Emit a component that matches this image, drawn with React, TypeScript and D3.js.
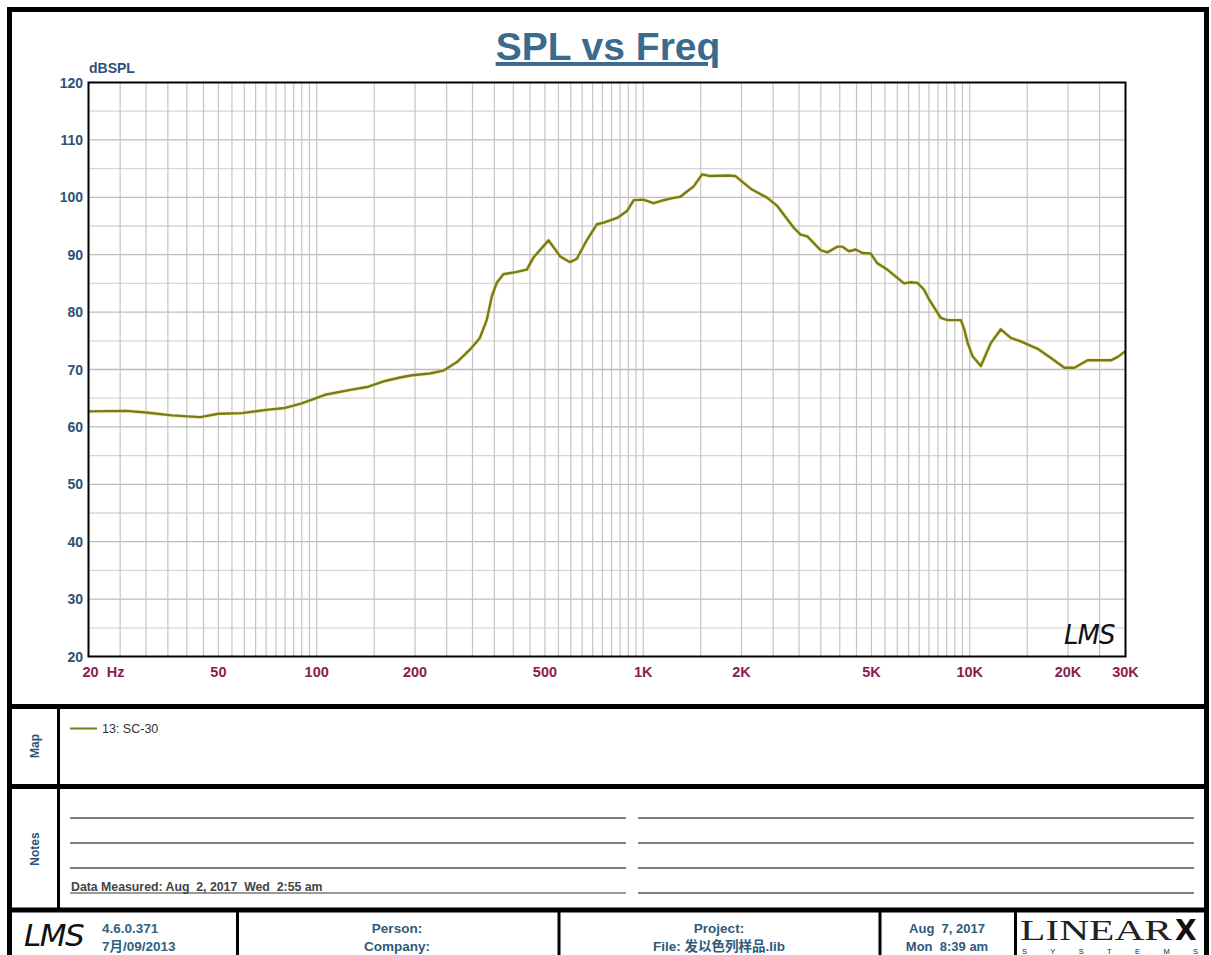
import * as d3 from 'd3';
import React from 'react';

// SPL curve
const freqHz = [
  20, 26, 30, 36, 44, 50, 59, 71, 80, 90,
  106, 128, 144, 162, 180, 196, 222, 244, 269, 295,
  316, 332, 344, 356, 373, 410, 440, 461, 513, 557,
  597, 626, 673, 721, 757, 832, 892, 935, 1000, 1076,
  1156, 1240, 1300, 1346, 1428, 1514, 1607, 1808, 1916, 2134,
  2400, 2573, 2891, 3033, 3180, 3494, 3665, 3930, 4073, 4270,
  4477, 4690, 4973, 5214, 5594, 6292, 6597, 6916, 7250, 7508,
  8150, 8550, 9397, 9622, 9860, 10205, 10816, 11605, 12450, 13360,
  14340, 16150, 17740, 19500, 20910, 22970, 27100, 28400, 30000,
];
const splDb = [
  62.7, 62.8, 62.5, 62.0, 61.7, 62.3, 62.4, 63.0, 63.3, 64.1,
  65.6, 66.5, 67.0, 68.0, 68.6, 69.0, 69.3, 69.8, 71.3, 73.5,
  75.5, 78.7, 82.8, 85.1, 86.6, 87.0, 87.4, 89.5, 92.5, 89.7,
  88.7, 89.3, 92.6, 95.3, 95.6, 96.4, 97.6, 99.5, 99.6, 99.0,
  99.5, 99.9, 100.1, 100.8, 101.9, 104.0, 103.7, 103.8, 103.7, 101.5,
  99.9, 98.5, 94.7, 93.5, 93.2, 90.8, 90.4, 91.4, 91.4, 90.6,
  90.9, 90.3, 90.2, 88.5, 87.4, 85.0, 85.2, 85.1, 83.9, 82.2,
  79.0, 78.6, 78.6, 77.0, 74.6, 72.3, 70.6, 74.6, 77.0, 75.5,
  74.9, 73.6, 72.0, 70.3, 70.3, 71.6, 71.6, 72.2, 73.2,
];

const yTicks = [20, 30, 40, 50, 60, 70, 80, 90, 100, 110, 120];
const xTickFreqs = [20, 50, 100, 200, 500, 1000, 2000, 5000, 10000, 20000, 30000];
const xTickLabels = ['20  Hz', '50', '100', '200', '500', '1K', '2K', '5K', '10K', '20K', '30K'];
// grid spacing per decade: [from, to, step]
const gridSteps = [[20, 100, 5], [100, 1000, 50], [1000, 10000, 500], [10000, 30000, 5000]];

const legendLabel = '13: SC-30';
const noteText = 'Data Measured: Aug  2, 2017  Wed  2:55 am';

const W = 1211;
const H = 955;
const plot = { left: 88.5, right: 1125.5, top: 82.5, bottom: 656.5 };

const SANS = '"Liberation Sans", Arial, sans-serif';
const NARROW = '"Liberation Sans Narrow", "Liberation Sans", Arial, sans-serif';
const CJK = '"Liberation Sans", Arial, "Noto Sans CJK SC", sans-serif';
const NARROW_CJK = '"Liberation Sans Narrow", "Liberation Sans", "Noto Sans CJK SC", sans-serif';
const CURVE = '#7b7b16';
const BLUE = '#2c5277';
const FOOT = '#2f5a7a';

export default function App() {
  const x = d3.scaleLog().domain([20, 30000]).range([plot.left, plot.right]);
  const y = d3.scaleLinear().domain([20, 120]).range([plot.bottom, plot.top]);

  const gridFreqs: number[] = [];
  gridSteps.forEach(([a, b, s]) => {
    for (let f = a + s; f <= b; f += s) {
      if (f < 30000) gridFreqs.push(f);
    }
  });
  const hGrid = d3.range(25, 120, 5);

  const pts: [number, number][] = freqHz.map((f, i) => [f, splDb[i]]);
  const line = d3
    .line<[number, number]>()
    .x((d) => x(d[0]))
    .y((d) => y(d[1]));

  const notesLines = [818, 843, 868, 893];
  const footerDividers = [237.5, 559, 880, 1015.5];

  return (
    <svg
      width={W}
      height={H}
      style={{ position: 'absolute', left: 0, top: 0, background: '#fff' }}
      fontFamily={SANS}
    >
      <rect x={0} y={0} width={W} height={H} fill="#fff" />

      {/* title */}
      <text
        x={608}
        y={60}
        textAnchor="middle"
        fontSize={39}
        fontWeight="bold"
        fill="#3b6a8e"
        textDecoration="underline"
      >
        SPL vs Freq
      </text>

      {/* grid */}
      <g>
        {hGrid.map((v) => (
          <line
            key={'h' + v}
            x1={plot.left}
            x2={plot.right}
            y1={y(v)}
            y2={y(v)}
            stroke={v % 10 === 0 ? '#bdbdbd' : '#d6d6d6'}
            strokeWidth={1.3}
          />
        ))}
        {gridFreqs.map((f) => (
          <line
            key={'v' + f}
            x1={x(f)}
            x2={x(f)}
            y1={plot.top}
            y2={plot.bottom}
            stroke="#c4c4c4"
            strokeWidth={1.2}
          />
        ))}
      </g>

      {/* curve */}
      <path d={line(pts) ?? ''} fill="none" stroke="#e4e48a" strokeWidth={4} strokeOpacity={0.5} />
      <path d={line(pts) ?? ''} fill="none" stroke={CURVE} strokeWidth={2.4} strokeLinejoin="round" />

      {/* plot frame */}
      <rect
        x={plot.left}
        y={plot.top}
        width={plot.right - plot.left}
        height={plot.bottom - plot.top}
        fill="none"
        stroke="#000"
        strokeWidth={2}
      />

      {/* watermark */}
      <text x={1064} y={644} fontSize={26} fontStyle="italic" fontFamily='"DejaVu Sans", sans-serif' fontWeight={200} fill="#111" letterSpacing={-1}>
        LMS
      </text>

      {/* y axis */}
      <text x={89} y={73} fontSize={14} fontWeight="bold" fill={BLUE}>
        dBSPL
      </text>
      {yTicks.map((v) => (
        <text key={'yt' + v} x={83} y={y(v) + 5} textAnchor="end" fontSize={14} fontWeight="bold" fill={BLUE}>
          {v}
        </text>
      ))}

      {/* x axis */}
      {xTickFreqs.map((f, i) => (
        <text
          key={'xt' + f}
          x={i === 0 ? x(f) - 6 : x(f)}
          y={677}
          textAnchor={i === 0 ? 'start' : 'middle'}
          fontSize={14.5}
          fontWeight="bold"
          fill="#8c1c4c"
          style={{ whiteSpace: 'pre' }}
        >
          {xTickLabels[i]}
        </text>
      ))}

      {/* outer frame & section dividers */}
      <line x1={9.5} x2={9.5} y1={7} y2={H} stroke="#000" strokeWidth={5} />
      <line x1={1206.5} x2={1206.5} y1={7} y2={H} stroke="#000" strokeWidth={5} />
      <line x1={7} x2={1209} y1={9.5} y2={9.5} stroke="#000" strokeWidth={5} />
      <line x1={7} x2={1209} y1={706.5} y2={706.5} stroke="#000" strokeWidth={5} />
      <line x1={7} x2={1209} y1={786.5} y2={786.5} stroke="#000" strokeWidth={5} />
      <line x1={7} x2={1209} y1={910} y2={910} stroke="#000" strokeWidth={5} />
      <line x1={58.5} x2={58.5} y1={709} y2={908} stroke="#000" strokeWidth={3} />
      {footerDividers.map((fx) => (
        <line key={'fd' + fx} x1={fx} x2={fx} y1={912} y2={H} stroke="#000" strokeWidth={3} />
      ))}

      {/* Map section */}
      <text transform="translate(38.5,746) rotate(-90)" textAnchor="middle" fontSize={12} fontWeight="bold" fill={BLUE}>
        Map
      </text>
      <line x1={70} x2={97} y1={728.5} y2={728.5} stroke={CURVE} strokeWidth={2} />
      <text x={102} y={733} fontSize={12.5} fill="#333">
        {legendLabel}
      </text>

      {/* Notes section */}
      <text transform="translate(38.5,849) rotate(-90)" textAnchor="middle" fontSize={12} fontWeight="bold" fill={BLUE}>
        Notes
      </text>
      {notesLines.map((ly, i) => (
        <g key={'nl' + ly}>
          <line x1={70} x2={626} y1={ly} y2={ly} stroke={i === 3 ? '#777' : '#555'} strokeWidth={1.3} />
          <line x1={638} x2={1194} y1={ly} y2={ly} stroke="#555" strokeWidth={1.3} />
        </g>
      ))}
      <text x={71} y={891} fontSize={12.3} fontWeight="bold" fill="#444" style={{ whiteSpace: 'pre' }}>
        {noteText}
      </text>

      {/* footer */}
      <text x={24} y={946} fontSize={31} fontStyle="italic" fontFamily='"DejaVu Sans", sans-serif' fontWeight={200} fill="#111" letterSpacing={-1.5}>
        LMS
      </text>
      <text x={102} y={933} fontSize={13.5} fontWeight="bold" fill="#2f6280" fontFamily={CJK}>
        4.6.0.371
      </text>
      <text x={102} y={951} fontSize={13.5} fontWeight="bold" fill="#2f6280" fontFamily={CJK}>
        7月/09/2013
      </text>
      <text x={397} y={933} textAnchor="middle" fontSize={13.5} fontWeight="bold" fill={FOOT}>
        Person:
      </text>
      <text x={397} y={951} textAnchor="middle" fontSize={13.5} fontWeight="bold" fill={FOOT}>
        Company:
      </text>
      <text x={719} y={933} textAnchor="middle" fontSize={13.5} fontWeight="bold" fill={FOOT} fontFamily={NARROW}>
        Project:
      </text>
      <text x={719} y={951} textAnchor="middle" fontSize={13.5} fontWeight="bold" fill={FOOT} fontFamily={NARROW_CJK}>
        File: 发以色列样品.lib
      </text>
      <text x={947} y={933} textAnchor="middle" fontSize={13} fontWeight="bold" fill={FOOT} fontFamily={NARROW} style={{ whiteSpace: 'pre' }}>
        Aug  7, 2017
      </text>
      <text x={947} y={951} textAnchor="middle" fontSize={13} fontWeight="bold" fill={FOOT} fontFamily={NARROW} style={{ whiteSpace: 'pre' }}>
        Mon  8:39 am
      </text>

      {/* LinearX logo */}
      <text x={1020} y={940} fontSize={30} fontFamily='"Liberation Serif", "DejaVu Serif", serif' fill="#222" textLength={152} lengthAdjust="spacingAndGlyphs">
        LINEAR
      </text>
      <text x={1175} y={940} fontSize={28} fontWeight="bold" fontFamily='"DejaVu Sans", sans-serif' fill="#111">
        X
      </text>
      <text x={1022} y={954} fontSize={7.5} fontFamily={SANS} fill="#222" textLength={176} lengthAdjust="spacing">
        SYSTEMS
      </text>
    </svg>
  );
}
